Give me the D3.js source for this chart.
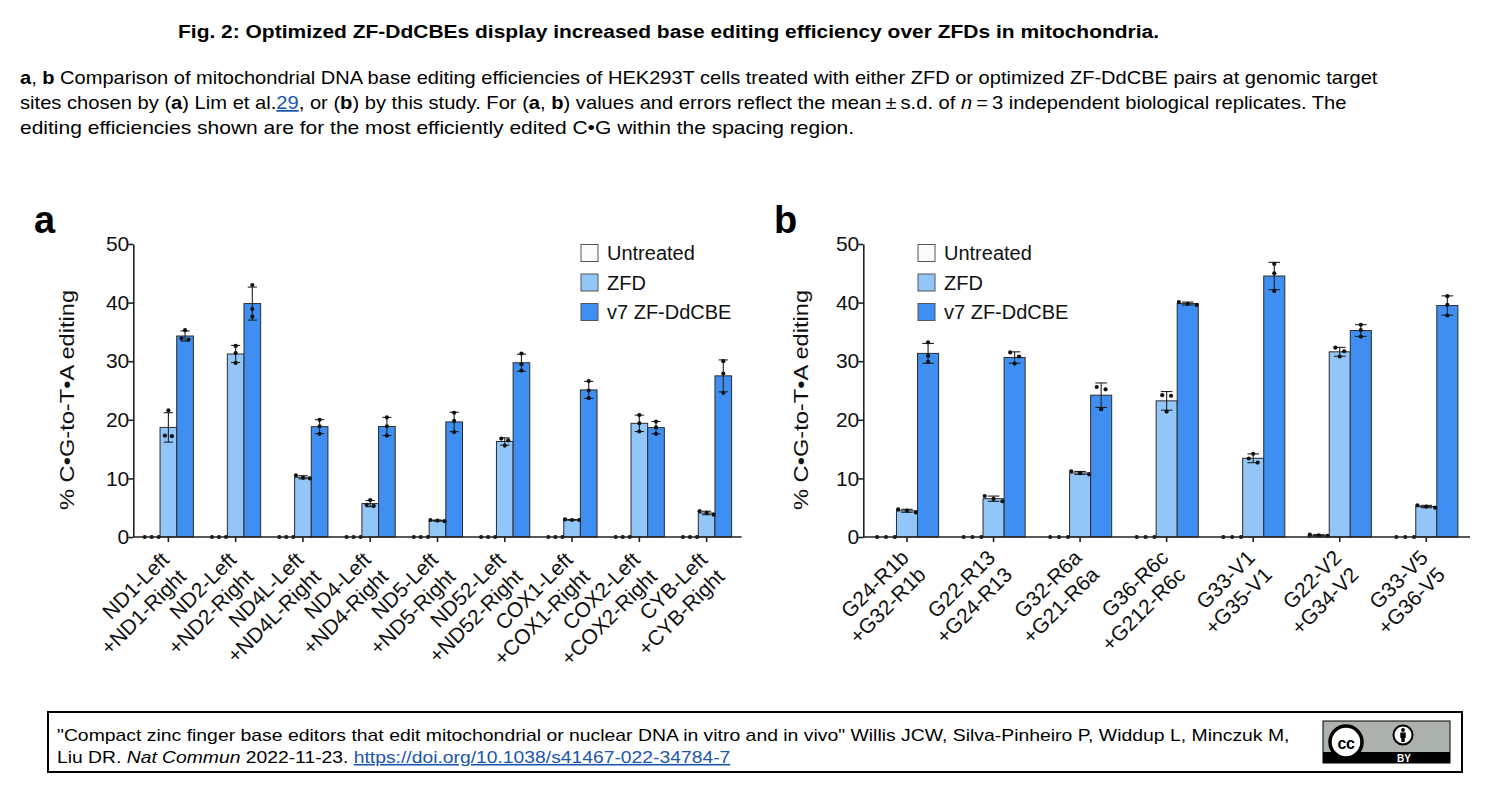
<!DOCTYPE html>
<html lang="en">
<head>
<meta charset="UTF-8">
<title>Fig. 2 ZF-DdCBE editing</title>
<script src="https://cdn.jsdelivr.net/npm/d3@7/dist/d3.min.js"></script>
<style>
    body{
        margin: 0;
        background: #fff;
    }
    svg{
        display: block;
        font-family: "Liberation Sans", Arial, Helvetica, sans-serif;
    }
</style>
</head>
<body>
<svg id="fig" width="1492" height="794"></svg>
<script>
// ---- data (3 replicate values per bar, % C•G-to-T•A editing) ----
const seriesNames = ["Untreated", "ZFD", "v7 ZF-DdCBE"];
const yTicks = [0, 10, 20, 30, 40, 50];

// panel a: sites from Lim et al.
const labelsA = [
    ["ND1-Left", "+ND1-Right"], ["ND2-Left", "+ND2-Right"], ["ND4L-Left", "+ND4L-Right"],
    ["ND4-Left", "+ND4-Right"], ["ND5-Left", "+ND5-Right"], ["ND52-Left", "+ND52-Right"],
    ["COX1-Left", "+COX1-Right"], ["COX2-Left", "+COX2-Right"], ["CYB-Left", "+CYB-Right"]
];
const untreatedA = [[0,0,0],[0,0,0],[0,0,0],[0,0,0],[0,0,0],[0,0,0],[0,0,0],[0,0,0],[0,0,0]];
const zfdA = [
    [21.6, 17.3, 17.2], [32.6, 31.4, 29.7], [10.5, 10.1, 10.0],
    [6.3, 5.5, 5.3], [2.9, 2.8, 2.7], [16.8, 16.5, 15.6],
    [3.0, 2.9, 2.9], [20.8, 19.4, 18.0], [4.4, 4.1, 3.8]
];
const v7A = [
    [35.3, 33.9, 33.7], [43.0, 38.9, 37.6], [20.0, 18.9, 17.6],
    [20.4, 18.9, 17.3], [21.2, 19.8, 17.9], [31.3, 29.5, 28.4],
    [26.6, 25.0, 23.7], [19.7, 18.7, 17.6], [30.0, 27.9, 24.6]
];

// panel b: sites chosen by this study
const labelsB = [
    ["G24-R1b", "+G32-R1b"], ["G22-R13", "+G24-R13"], ["G32-R6a", "+G21-R6a"],
    ["G36-R6c", "+G212-R6c"], ["G33-V1", "+G35-V1"], ["G22-V2", "+G34-V2"], ["G33-V5", "+G36-V5"]
];
const untreatedB = [[0,0,0],[0,0,0],[0,0,0],[0,0,0],[0,0,0],[0.4,0.3,0.2],[0,0,0]];
const zfdB = [
    [4.7, 4.5, 4.2], [7.0, 6.5, 6.1], [11.2, 10.9, 10.7], [24.2, 24.1, 21.4],
    [14.2, 13.4, 12.7], [32.3, 31.7, 30.8], [5.4, 5.2, 5.0]
];
const v7B = [
    [33.2, 30.9, 29.9], [31.5, 30.8, 29.6], [25.6, 25.2, 21.8], [40.1, 39.8, 39.6],
    [46.6, 45.0, 42.0], [36.2, 35.3, 34.2], [41.1, 39.6, 37.8]
];

const seriesFill = ["#fbfbfb", "#93c6f8", "#3f8ef1"];

const svg = d3.select("#fig");

// text line squeezed/stretched to a given width (the source uses a narrow Helvetica)
function fitLine(x, y, width, size, weight, parts) {
    const g = svg.append("g");
    const t = g.append("text").attr("font-size", size).attr("font-weight", weight || "normal");
    parts.forEach(p => {
        const s = t.append("tspan").text(p.t);
        if (p.b) s.attr("font-weight", "bold");
        if (p.i) s.attr("font-style", "italic");
        if (p.link) s.attr("fill", "#1a55b0").attr("text-decoration", "underline");
    });
    const w = t.node().getBBox().width;
    g.attr("transform", `translate(${x},${y}) scale(${width / w},1)`);
    return g;
}

// title + caption
fitLine(178, 38, 982, 19, "bold", [{t: "Fig. 2: Optimized ZF-DdCBEs display increased base editing efficiency over ZFDs in mitochondria."}]);
fitLine(20, 84, 1358, 18, "normal", [
    {t: "a", b: 1}, {t: ", "}, {t: "b", b: 1},
    {t: " Comparison of mitochondrial DNA base editing efficiencies of HEK293T cells treated with either ZFD or optimized ZF-DdCBE pairs at genomic target"}
]);
fitLine(20, 109, 1327, 18, "normal", [
    {t: "sites chosen by ("}, {t: "a", b: 1}, {t: ") Lim et al."}, {t: "29", link: 1}, {t: ", or ("}, {t: "b", b: 1},
    {t: ") by this study. For ("}, {t: "a", b: 1}, {t: ", "}, {t: "b", b: 1},
    {t: ") values and errors reflect the mean\u2009±\u2009s.d. of "}, {t: "n", i: 1},
    {t: "\u2009=\u20093 independent biological replicates. The"}
]);
fitLine(20, 134, 835, 18, "normal", [
    {t: "editing efficiencies shown are for the most efficiently edited C\u2022G within the spacing region."}
]);

function drawPanel(p) {
    const g = svg.append("g");
    const x = d3.scaleBand().domain(d3.range(p.labels.length))
        .range(p.xRange).paddingInner(p.padIn).paddingOuter(p.padOut);
    const y = d3.scaleLinear().domain([0, 50]).range([537, 244]);
    const bw = x.bandwidth() / 3;
    const series = [p.untreated, p.zfd, p.v7];
    const stats = series.map(reps => reps.map(r => ({r: r, m: d3.mean(r), s: d3.deviation(r)})));

    // bars
    stats.forEach((st, k) => {
        g.append("g").selectAll("rect").data(st).join("rect")
            .attr("x", (d, i) => x(i) + k * bw)
            .attr("width", bw)
            .attr("y", d => y(d.m))
            .attr("height", d => y(0) - y(d.m))
            .attr("fill", seriesFill[k])
            .attr("stroke", "#2c2c2c")
            .attr("stroke-width", 1);
    });

    // error bars (mean ± s.d.) and replicate dots
    const capW = bw * 0.55;
    stats.forEach((st, k) => {
        st.forEach((d, i) => {
            const cx = x(i) + k * bw + bw / 2;
            if (d.s > 0.05) {
                const eg = g.append("g").attr("stroke", "#222").attr("stroke-width", 1.1);
                eg.append("line").attr("x1", cx).attr("x2", cx).attr("y1", y(d.m - d.s)).attr("y2", y(d.m + d.s));
                [d.m - d.s, d.m + d.s].forEach(v => {
                    eg.append("line").attr("x1", cx - capW / 2).attr("x2", cx + capW / 2)
                        .attr("y1", y(v)).attr("y2", y(v));
                });
            }
            // spread dots that sit on top of each other
            const pts = d.r.map(v => ({py: y(v)})).sort((a, b) => a.py - b.py);
            const clusters = [];
            pts.forEach(pt => {
                const last = clusters[clusters.length - 1];
                if (last && pt.py - last[last.length - 1].py < 4.5) last.push(pt);
                else clusters.push([pt]);
            });
            const sp = bw * 0.42;
            clusters.forEach(c => c.forEach((pt, j) => { pt.px = cx + (j - (c.length - 1) / 2) * sp; }));
            g.append("g").selectAll("circle").data(pts).join("circle")
                .attr("cx", q => q.px).attr("cy", q => q.py).attr("r", 2.1).attr("fill", "#111");
        });
    });

    // y axis
    const ya = g.append("g").attr("transform", `translate(${p.xRange[0]},0)`)
        .call(d3.axisLeft(y).tickValues(yTicks).tickSize(5).tickSizeOuter(0).tickPadding(-1));
    ya.select(".domain").attr("stroke", "#222").attr("stroke-width", 1.6);
    ya.selectAll(".tick line").attr("stroke", "#222").attr("stroke-width", 1.6);
    ya.selectAll(".tick text").attr("font-size", 21).attr("fill", "#111")
        .attr("font-family", "'Liberation Sans', Arial, sans-serif");

    // x axis baseline with ticks under the middle bar
    g.append("line").attr("x1", p.xRange[0]).attr("x2", p.xRange[1])
        .attr("y1", y(0)).attr("y2", y(0)).attr("stroke", "#222").attr("stroke-width", 1.6);
    g.append("g").selectAll("line").data(p.labels).join("line")
        .attr("x1", (d, i) => x(i) + x.bandwidth() / 2).attr("x2", (d, i) => x(i) + x.bandwidth() / 2)
        .attr("y1", y(0)).attr("y2", y(0) + 5).attr("stroke", "#222").attr("stroke-width", 1.6);

    // rotated two-line tick labels
    const lab = g.append("g").selectAll("text").data(p.labels).join("text")
        .attr("transform", (d, i) => `translate(${x(i) + x.bandwidth() / 2 + p.labDx},${y(0) + p.labDy}) rotate(-45)`)
        .attr("text-anchor", "end").attr("font-size", 21).attr("fill", "#111");
    lab.append("tspan").attr("x", 0).attr("dy", 0).text(d => d[0]);
    lab.append("tspan").attr("x", 0).attr("dy", "1.15em").text(d => d[1]);

    // y title
    g.append("text")
        .attr("transform", `translate(${p.titleX},400) rotate(-90)`)
        .attr("text-anchor", "middle").attr("dominant-baseline", "central")
        .attr("font-size", 21).attr("fill", "#111")
        .attr("textLength", 220).attr("lengthAdjust", "spacingAndGlyphs")
        .text("% C\u2022G-to-T\u2022A editing");

    // panel letter
    g.append("text").attr("x", p.letterX).attr("y", 233)
        .attr("font-size", 38).attr("font-weight", "bold").attr("fill", "#000").text(p.letter);

    // legend
    const lg = g.append("g").selectAll("g").data(seriesNames).join("g")
        .attr("transform", (d, i) => `translate(${p.legendX},${253 + i * 29.5})`);
    lg.append("rect").attr("x", 0).attr("y", -8.5).attr("width", 17).attr("height", 17)
        .attr("fill", (d, i) => seriesFill[i]).attr("stroke", "#555").attr("stroke-width", 1);
    lg.append("text").attr("x", 26).attr("y", 0).attr("dominant-baseline", "central")
        .attr("font-size", 20).attr("fill", "#111").text(d => d);
}

drawPanel({
    labels: labelsA, untreated: untreatedA, zfd: zfdA, v7: v7A,
    xRange: [133.3, 741.7], padIn: 0.257, padOut: 0.15, labDx: 2, labDy: 24,
    titleX: 66, letter: "a", letterX: 34, legendX: 581
});
drawPanel({
    labels: labelsB, untreated: untreatedB, zfd: zfdB, v7: v7B,
    xRange: [863.3, 1470], padIn: 0.27, padOut: 0.14, labDx: 3, labDy: 22,
    titleX: 800, letter: "b", letterX: 774, legendX: 918
});

// citation box
svg.append("rect").attr("x", 48).attr("y", 712).attr("width", 1414).attr("height", 60)
    .attr("fill", "none").attr("stroke", "#000").attr("stroke-width", 2);
fitLine(57, 741, 1233, 16, "normal", [
    {t: "\"Compact zinc finger base editors that edit mitochondrial or nuclear DNA in vitro and in vivo\" Willis JCW, Silva-Pinheiro P, Widdup L, Minczuk M,"}
]);
fitLine(57, 763, 674, 16, "normal", [
    {t: "Liu DR. "}, {t: "Nat Commun", i: 1}, {t: " 2022-11-23. "},
    {t: "https://doi.org/10.1038/s41467-022-34784-7", link: 1}
]);

// CC BY badge
const cc = svg.append("g");
cc.append("rect").attr("x", 1323).attr("y", 721).attr("width", 127).attr("height", 42)
    .attr("fill", "#aab2ab").attr("stroke", "#000").attr("stroke-width", 1);
cc.append("rect").attr("x", 1323).attr("y", 752).attr("width", 127).attr("height", 11).attr("fill", "#000");
cc.append("circle").attr("cx", 1346).attr("cy", 742).attr("r", 16)
    .attr("fill", "#fff").attr("stroke", "#000").attr("stroke-width", 3.5);
cc.append("text").attr("x", 1346).attr("y", 743).attr("text-anchor", "middle").attr("dominant-baseline", "central")
    .attr("font-size", 16).attr("font-weight", "bold").attr("letter-spacing", -0.5).attr("fill", "#000").text("cc");
cc.append("circle").attr("cx", 1403).attr("cy", 735).attr("r", 9.5)
    .attr("fill", "#fff").attr("stroke", "#000").attr("stroke-width", 2);
cc.append("circle").attr("cx", 1403).attr("cy", 730).attr("r", 1.9).attr("fill", "#000");
cc.append("rect").attr("x", 1400.3).attr("y", 732.5).attr("width", 5.4).attr("height", 5.5).attr("fill", "#000");
cc.append("rect").attr("x", 1401.3).attr("y", 737.5).attr("width", 3.4).attr("height", 4.5).attr("fill", "#000");
cc.append("text").attr("x", 1404).attr("y", 761.5).attr("text-anchor", "middle")
    .attr("font-size", 10).attr("font-weight", "bold").attr("fill", "#fff").text("BY");
</script>
</body>
</html>
